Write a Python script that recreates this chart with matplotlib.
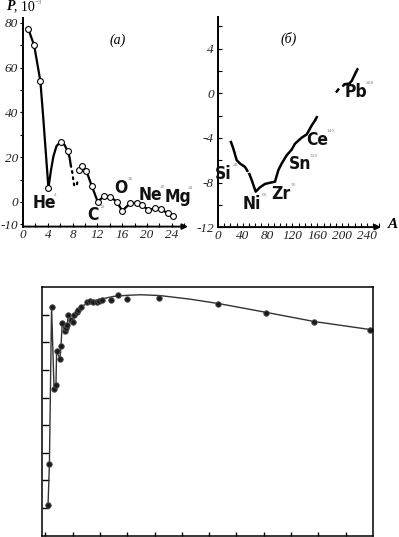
import matplotlib
matplotlib.use("Agg")
import matplotlib.pyplot as plt
from matplotlib import font_manager
from matplotlib.font_manager import FontProperties
from matplotlib.ticker import MultipleLocator, FixedLocator, NullFormatter

W, H = 399, 537
fig = plt.figure(figsize=(W / 100, H / 100), dpi=100)

def rect(l, t, r, b):
    return [l / W, 1 - b / H, (r - l) / W, (b - t) / H]

def fx(x):
    return x / W

def fy(y):
    return 1 - y / H

SERIF = ["Liberation Serif", "DejaVu Serif"]

# pick a condensed bold sans face for the element symbols, if one is installed
def condensed_bold():
    best = None
    for f in font_manager.fontManager.ttflist:
        nm = (f.name + " " + f.fname).lower()
        if ("narrow" in nm or "condensed" in nm or "cond" in f.fname.lower()) \
                and "oblique" not in nm and "italic" not in nm:
            w = f.weight if isinstance(f.weight, int) else (700 if "bold" in str(f.weight) else 400)
            if w >= 600 and "bold" in f.fname.lower():
                if best is None or "liberation" in nm:
                    best = f.fname
    return best

_cf = condensed_bold()
if _cf:
    ELEM_FP = FontProperties(fname=_cf, size=12.5)
    ELEM_W = 3.6
else:
    ELEM_FP = FontProperties(family=["Liberation Sans", "DejaVu Sans"], weight="bold", size=11.5)
    ELEM_W = 4.6

# ---------------- data: panel (a) light nuclei ----------------
a_curve1_A = [0.86, 1.8, 2.8, 3.2, 3.6, 4.1, 4.5, 4.9, 5.4, 6.1, 6.7, 7.2, 7.5, 7.7]
a_curve1_P = [77.3, 70.0, 54.0, 40.0, 25.0, 6.2, 14.0, 20.4, 25.0, 27.0, 25.5, 22.7, 20.0, 16.5]
a_dotted_A = [7.7, 7.85, 8.0, 8.1, 8.25, 8.5, 8.7, 8.8]
a_dotted_P = [16.5, 14.4, 12.5, 10.0, 7.5, 7.0, 7.7, 10.0]
a_curve2_A = [9.03, 9.57, 10.2, 11.08, 12.05, 13.06, 14.1, 15.1, 16.0, 17.3,
              18.3, 19.2, 20.2, 21.3, 22.3, 23.3, 24.2]
a_curve2_P = [14.4, 16.2, 14.0, 7.2, 0.1, 2.7, 2.4, 0.1, -3.9, -0.6,
              -0.3, -1.35, -3.6, -2.9, -3.2, -5.1, -6.2]
a_points_A = [0.86, 1.8, 2.8, 4.1, 6.1, 7.2] + a_curve2_A
a_points_P = [77.3, 70.0, 54.0, 6.2, 27.0, 22.7] + a_curve2_P
a_xticklabels = ["0", "4", "8", "12", "16", "20", "24"]
a_yticklabels = ["-10", "0", "20", "40", "60", "80"]

# ---------------- data: panel (б) heavy nuclei ----------------
b_seg1_A = [20.9, 24.7, 30.1, 35.4, 43.5, 47.2]
b_seg1_P = [-4.37, -4.96, -6.0, -6.3, -6.6, -6.95]
b_seg2_A = [50.5, 54.3, 60.7, 67.7, 75.7, 83.8, 91.8, 97.2, 102.6, 110.6,
            118.7, 124.0, 134.8, 142.9, 150.9, 156.2]
b_seg2_P = [-7.24, -7.78, -8.82, -8.43, -8.13, -8.02, -7.93, -6.89, -6.3, -5.56,
            -5.05, -4.52, -3.98, -3.69, -2.89, -2.44]
b_dash1_A = [156.2, 160.6, 164.3]
b_dash1_P = [-2.44, -2.0, -1.8]
b_dash2_A = [190.1, 195.4, 199.3, 204.6]
b_dash2_P = [0.07, 0.46, 0.58, 0.82]
b_pb_A = [204.6, 211.5, 215.4, 221.8]
b_pb_P = [0.82, 0.87, 1.11, 1.85]
b_dash3_A = [221.8, 225.0, 227.6]
b_dash3_P = [1.85, 2.2, 2.38]
b_xticklabels = ["0", "40", "80", "120", "160", "200", "240"]
b_yticklabels = ["-12", "-8", "-4", "0", "4"]

# ---------------- data: bottom chart ----------------
c_A = [2.0, 3.0, 4.6, 6.4, 7.8, 8.3, 10.8, 11.5, 12.4, 14.4, 14.9, 16.1, 16.8,
       18.5, 20.5, 21.0, 22.9, 24.1, 26.1, 30.2, 32.7, 35.1, 37.5, 39.3, 41.2,
       47.8, 53.6, 59.5, 83.6, 126.8, 161.5, 196.6, 237.8]
c_E = [1.10, 2.58, 8.29, 5.32, 5.47, 6.68, 6.40, 6.88, 7.69, 7.39, 7.52, 7.63, 8.00,
       7.81, 7.73, 7.97, 8.09, 8.15, 8.29, 8.45, 8.51, 8.45, 8.45, 8.51, 8.53,
       8.53, 8.71, 8.57, 8.61, 8.37, 8.07, 7.73, 7.46]
c_fit_A = [26.1, 35.0, 50.0, 60.0, 70.0, 84.0, 106.0, 127.0, 162.0, 197.0, 238.0]
c_fit_E = [8.29, 8.50, 8.66, 8.70, 8.72, 8.69, 8.56, 8.40, 8.08, 7.75, 7.46]

# ================= panel (a) =================
ax1 = fig.add_axes(rect(23, 17.85, 188, 226.6))
ax1.set_xlim(0, 26.6)
ax1.set_ylim(-11, 82.3)
ax1.plot(a_curve1_A, a_curve1_P, color="black", lw=1.6, solid_capstyle="round")
ax1.plot(a_dotted_A, a_dotted_P, color="black", lw=1.6, linestyle=(0, (0.8, 2.0)),
         dash_capstyle="round")
ax1.plot(a_curve2_A, a_curve2_P, color="black", lw=1.6)
ax1.plot(a_points_A, a_points_P, linestyle="none", marker="o", markersize=4.2,
         markerfacecolor="white", markeredgecolor="black", markeredgewidth=0.8)

for s in ["top", "right", "bottom"]:
    ax1.spines[s].set_visible(False)
ax1.spines["left"].set_linewidth(1.4)
ax1.annotate("", xy=(1.0, 0), xytext=(0, 0), xycoords="axes fraction",
             arrowprops=dict(arrowstyle="-|>", lw=1.4, color="black",
                             mutation_scale=8, shrinkA=0, shrinkB=0))
ax1.xaxis.set_major_locator(FixedLocator([0, 4, 8, 12, 16, 20, 24]))
ax1.xaxis.set_minor_locator(MultipleLocator(2))
ax1.set_xticklabels(a_xticklabels)
ax1.yaxis.set_major_locator(FixedLocator([-10, 0, 20, 40, 60, 80]))
ax1.yaxis.set_minor_locator(MultipleLocator(10))
ax1.set_yticklabels(a_yticklabels)
ax1.tick_params(axis="x", which="both", direction="in", length=3, width=0.8, pad=2)
ax1.tick_params(axis="y", which="both", direction="out", length=2.5, width=0.8, pad=1)
for lab in ax1.get_xticklabels() + ax1.get_yticklabels():
    lab.set_fontfamily(SERIF)
    lab.set_fontstyle("italic")
    lab.set_fontsize(9.5)
    lab.set_color("#222222")

# ================= panel (б) =================
ax2 = fig.add_axes(rect(218, 16.7, 381, 227.1))
ax2.set_xlim(0, 262.6)
ax2.set_ylim(-12, 6.87)
ax2.plot(b_seg1_A, b_seg1_P, color="black", lw=1.8)
ax2.plot(b_seg2_A, b_seg2_P, color="black", lw=1.8)
ax2.plot(b_dash1_A, b_dash1_P, color="black", lw=1.8, linestyle=(0, (2.0, 1.6)))
ax2.plot(b_dash2_A, b_dash2_P, color="black", lw=1.8, linestyle=(0, (2.0, 1.6)))
ax2.plot(b_pb_A, b_pb_P, color="black", lw=1.8)
ax2.plot(b_dash3_A, b_dash3_P, color="black", lw=1.8, linestyle=(0, (2.0, 1.6)))
for s in ["top", "right", "bottom"]:
    ax2.spines[s].set_visible(False)
ax2.spines["left"].set_linewidth(1.4)
ax2.annotate("", xy=(1.0, 0), xytext=(0, 0), xycoords="axes fraction",
             arrowprops=dict(arrowstyle="-|>", lw=1.4, color="black",
                             mutation_scale=8, shrinkA=0, shrinkB=0))
ax2.xaxis.set_major_locator(FixedLocator([0, 40, 80, 120, 160, 200, 240]))
ax2.xaxis.set_minor_locator(MultipleLocator(10))
ax2.set_xticklabels(b_xticklabels)
ax2.yaxis.set_major_locator(FixedLocator([-12, -8, -4, 0, 4]))
ax2.yaxis.set_minor_locator(MultipleLocator(2))
ax2.set_yticklabels(b_yticklabels)
ax2.tick_params(axis="x", which="both", direction="in", length=3, width=0.8, pad=2)
ax2.tick_params(axis="y", which="both", direction="in", length=3, width=0.8, pad=3)
for lab in ax2.get_xticklabels() + ax2.get_yticklabels():
    lab.set_fontfamily(SERIF)
    lab.set_fontstyle("italic")
    lab.set_fontsize(9.5)
    lab.set_color("#222222")

# ================= bottom chart =================
ax3 = fig.add_axes(rect(42.3, 287, 373, 535.7))
ax3.set_xlim(-2.2, 240)
ax3.set_ylim(0, 9)
n_poly = 19
ax3.plot(c_A[:n_poly], c_E[:n_poly], color="#333333", lw=1.0)
ax3.plot(c_fit_A, c_fit_E, color="#333333", lw=1.0)
ax3.plot(c_A, c_E, linestyle="none", marker="o", markersize=4.0,
         markerfacecolor="#1a1a1a", markeredgecolor="#555555", markeredgewidth=0.6)
for s in ax3.spines.values():
    s.set_linewidth(1.1)
ax3.xaxis.set_major_locator(FixedLocator(list(range(0, 240, 20))))
ax3.yaxis.set_major_locator(FixedLocator(list(range(1, 9))))
ax3.xaxis.set_major_formatter(NullFormatter())
ax3.yaxis.set_major_formatter(NullFormatter())
ax3.tick_params(axis="x", direction="in", length=3, width=1.0)
ax3.tick_params(axis="y", direction="in", length=5, width=1.0)

# ================= texts =================
fig.text(fx(7), fy(10.5), "P", fontfamily=SERIF, fontstyle="italic", fontweight="bold",
         fontsize=10, ha="left", va="baseline")
fig.text(fx(14), fy(10.5), ", 10", fontfamily=SERIF, fontsize=10, ha="left", va="baseline")
fig.text(fx(35), fy(4.0), "−3", fontfamily=SERIF, fontsize=5, color="#777777",
         ha="left", va="baseline")
fig.text(fx(118), fy(40), "(a)", fontfamily=SERIF, fontstyle="italic", fontsize=10,
         ha="center", va="center")
fig.text(fx(289), fy(39), "(б)", fontfamily=SERIF, fontstyle="italic", fontsize=10,
         ha="center", va="center")
fig.text(fx(393), fy(224), "A", fontfamily=SERIF, fontstyle="italic", fontweight="bold",
         fontsize=11, ha="center", va="center")

elements = [
    ("He", "4", 44, 203),
    ("C", "12", 93, 215),
    ("O", "16", 121, 188),
    ("Ne", "20", 150, 195),
    ("Mg", "24", 178, 197),
    ("Si", "28", 223, 174),
    ("Ni", "60", 252, 204),
    ("Zr", "90", 281, 194),
    ("Sn", "120", 300, 164),
    ("Ce", "140", 317, 140),
    ("Pb", "208", 356, 92),
]
for sym, mass, x, y in elements:
    fig.text(fx(x), fy(y), sym, fontproperties=ELEM_FP,
             ha="center", va="center", color="#111111")
    half = ELEM_W * len(sym) + 2.5
    fig.text(fx(x + half), fy(y - 8.5), mass, fontfamily=["DejaVu Sans"], fontsize=3.2,
             ha="left", va="center", color="#8a8a8a")

fig.savefig("out.png", dpi=100)
